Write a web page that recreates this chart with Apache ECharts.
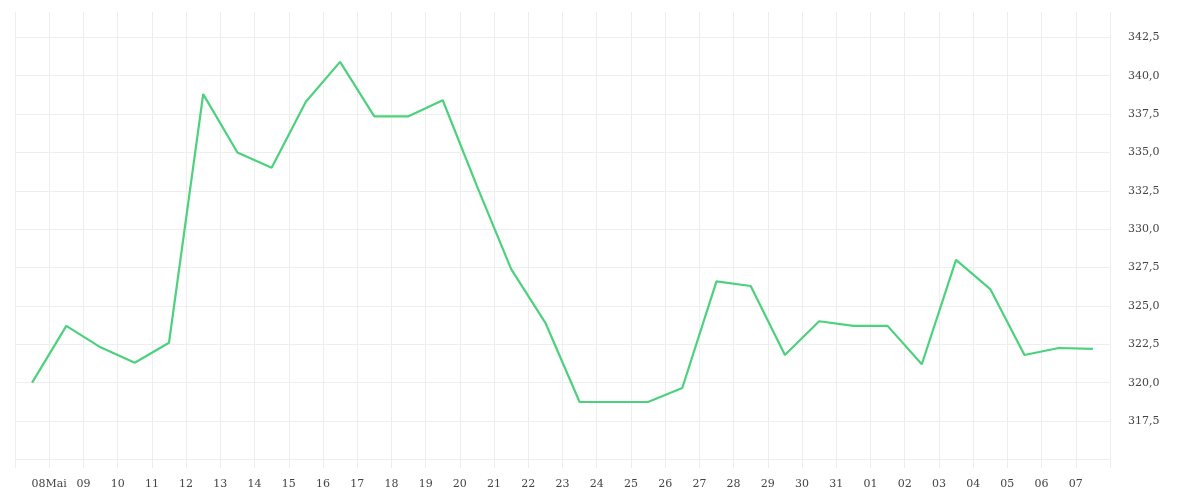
<!DOCTYPE html>
<html>
<head>
<meta charset="utf-8">
<script src="https://cdn.jsdelivr.net/npm/echarts@6/dist/echarts.min.js"></script>
<style>html,body{margin:0;padding:0;background:#fff}#c{width:1200px;height:500px}</style>
</head>
<body>
<div id="c"></div>
<script>
// Day boundary labels (May 7 .. June 8); first and last are not shown
const dayLabels = ['07', '08Mai', '09', '10', '11', '12', '13', '14', '15', '16', '17', '18', '19', '20', '21', '22', '23', '24', '25', '26', '27', '28', '29', '30', '31', '01', '02', '03', '04', '05', '06', '07', '08'];
// Daily values (one per day, plotted at mid-day)
const values = [320.0, 323.7, 322.3, 321.3, 322.6, 338.8, 335.0, 334.0, 338.3, 340.9, 337.35, 337.35, 338.4, 332.8, 327.4, 323.9, 318.74, 318.74, 318.74, 319.65, 326.6, 326.3, 321.8, 324.0, 323.7, 323.7, 321.2, 328.0, 326.1, 321.8, 322.26, 322.2];
// Horizontal grid values and the labelled subset
const yGridValues = [315, 317.5, 320, 322.5, 325, 327.5, 330, 332.5, 335, 337.5, 340, 342.5];
const yLabelValues = [317.5, 320, 322.5, 325, 327.5, 330, 332.5, 335, 337.5, 340, 342.5];
const yMin = 314.44, yMax = 344.15;

const seriesData = values.map((v, i) => [i + 0.5, v]);
const font = 'DejaVu Serif';

const chart = echarts.init(document.getElementById('c'), null, {renderer: 'canvas'});
chart.setOption({
  animation: false,
  backgroundColor: '#ffffff',
  grid: {left: 15, right: 90, top: 12, bottom: 32, containLabel: false},
  xAxis: {
    type: 'value', min: 0, max: dayLabels.length - 1, interval: 1,
    axisLine: {show: false}, axisTick: {show: false},
    axisLabel: {
      margin: 11, color: '#444', fontFamily: font, fontSize: 11,
      showMinLabel: false, showMaxLabel: false,
      formatter: v => (v > 0 && v < dayLabels.length - 1) ? dayLabels[Math.round(v)] : ''
    },
    splitLine: {show: true, lineStyle: {color: '#eeeeee', width: 1}}
  },
  yAxis: {
    type: 'value', position: 'right', min: yMin, max: yMax,
    axisLine: {show: true, lineStyle: {color: '#eeeeee', width: 1}},
    axisTick: {show: false, customValues: yGridValues},
    axisLabel: {
      margin: 18, color: '#444', fontFamily: font, fontSize: 11,
      customValues: yLabelValues,
      formatter: v => v.toFixed(1).replace('.', ',')
    },
    splitLine: {show: true, lineStyle: {color: '#eeeeee', width: 1}}
  },
  series: [{
    type: 'line', data: seriesData, symbol: 'none',
    lineStyle: {color: '#4cd17d', width: 2.2},
    itemStyle: {color: '#4cd17d'}
  }]
});
</script>
</body>
</html>
